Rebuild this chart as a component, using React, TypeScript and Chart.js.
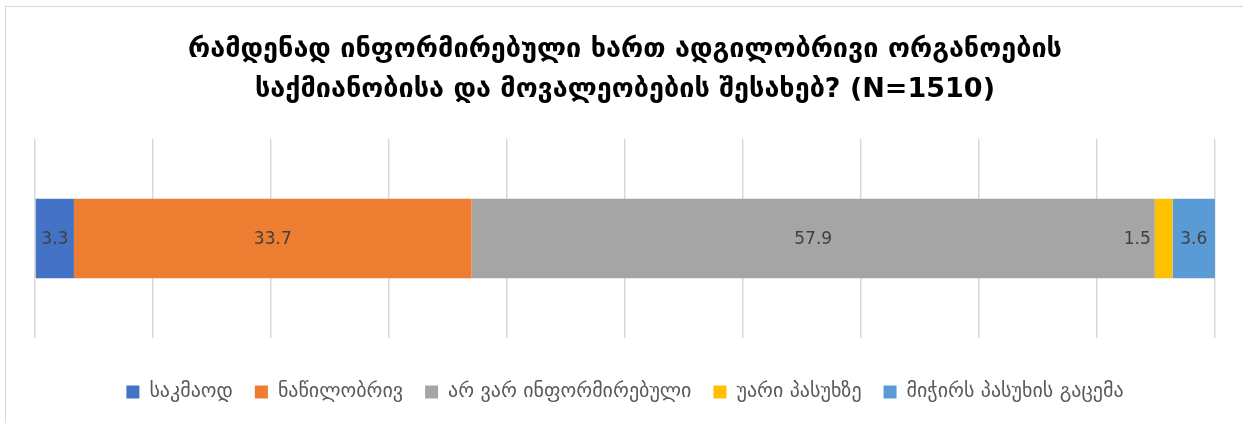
import React, { useEffect, useRef } from "react";
import { Chart, registerables } from "chart.js";

Chart.register(...registerables);

const categories = [""];
const seriesNames = ["საკმაოდ", "ნაწილობრივ", "არ ვარ ინფორმირებული", "უარი პასუხზე", "მიჭირს პასუხის გაცემა"];
const seriesValues = [3.3, 33.7, 57.9, 1.5, 3.6];
const seriesColors = ["#4472C4", "#ED7D31", "#A5A5A5", "#FFC000", "#5B9BD5"];
const titleLines = [
  "რამდენად ინფორმირებული ხართ ადგილობრივი ორგანოების",
  "საქმიანობისა და მოვალეობების შესახებ? (N=1510)",
];

const FONT = "'DejaVu Sans', 'Noto Sans', sans-serif";

const labelPlugin = {
  id: "segLabels",
  afterDatasetsDraw(chart: any) {
    const ctx = chart.ctx;
    ctx.save();
    ctx.font = `17px ${FONT}`;
    ctx.fillStyle = "#404040";
    ctx.textBaseline = "middle";
    chart.data.datasets.forEach((ds: any, i: number) => {
      const meta = chart.getDatasetMeta(i);
      meta.data.forEach((bar: any, j: number) => {
        const txt = String(ds.data[j]);
        const left = Math.min(bar.x, bar.base);
        const right = Math.max(bar.x, bar.base);
        const w = ctx.measureText(txt).width;
        if (right - left >= w + 4) {
          ctx.textAlign = "center";
          ctx.fillText(txt, (left + right) / 2, bar.y + 1);
        } else {
          ctx.textAlign = "right";
          ctx.fillText(txt, left - 4, bar.y + 1);
        }
      });
    });
    ctx.restore();
  },
};

export default function App() {
  const ref = useRef<HTMLCanvasElement>(null);
  useEffect(() => {
    if (!ref.current) return;
    const chart = new Chart(ref.current, {
      type: "bar",
      data: {
        labels: categories,
        datasets: seriesNames.map((n, i) => ({
          label: n,
          data: [seriesValues[i]],
          backgroundColor: seriesColors[i],
          borderWidth: 0,
          barPercentage: 0.8,
          categoryPercentage: 0.5,
        })),
      },
      options: {
        indexAxis: "y",
        animation: false,
        responsive: false,
        maintainAspectRatio: false,
        layout: { padding: { left: 35, right: 28, top: 30, bottom: 11 } },
        scales: {
          x: {
            stacked: true,
            min: 0,
            max: 100,
            ticks: { display: false, stepSize: 10 },
            grid: { color: "#D9D9D9", lineWidth: 1.5, drawTicks: false },
            border: { display: false },
            afterFit: (s: any) => {
              s.height = 22;
            },
          },
          y: { stacked: true, display: false },
        },
        plugins: {
          title: {
            display: true,
            text: titleLines,
            color: "#000000",
            font: { family: FONT, size: 27, weight: "bold", lineHeight: 1.48 },
            padding: { top: 0, bottom: 29 },
          },
          legend: {
            position: "bottom",
            labels: {
              boxWidth: 13,
              boxHeight: 13,
              padding: 22,
              color: "#595959",
              font: { family: FONT, size: 20 },
            },
          },
          tooltip: { enabled: false },
        },
      },
      plugins: [labelPlugin],
    });
    return () => chart.destroy();
  }, []);
  return (
    <div style={{ position: "fixed", left: 0, top: 0, width: 1243, height: 423, background: "#fff" }}>
      <div
        style={{
          position: "absolute",
          left: 5,
          top: 6,
          width: 1250,
          height: 430,
          border: "1px solid #D9D9D9",
          boxSizing: "border-box",
        }}
      />
      <canvas ref={ref} width={1243} height={423} style={{ position: "absolute", left: 0, top: 0 }} />
    </div>
  );
}
